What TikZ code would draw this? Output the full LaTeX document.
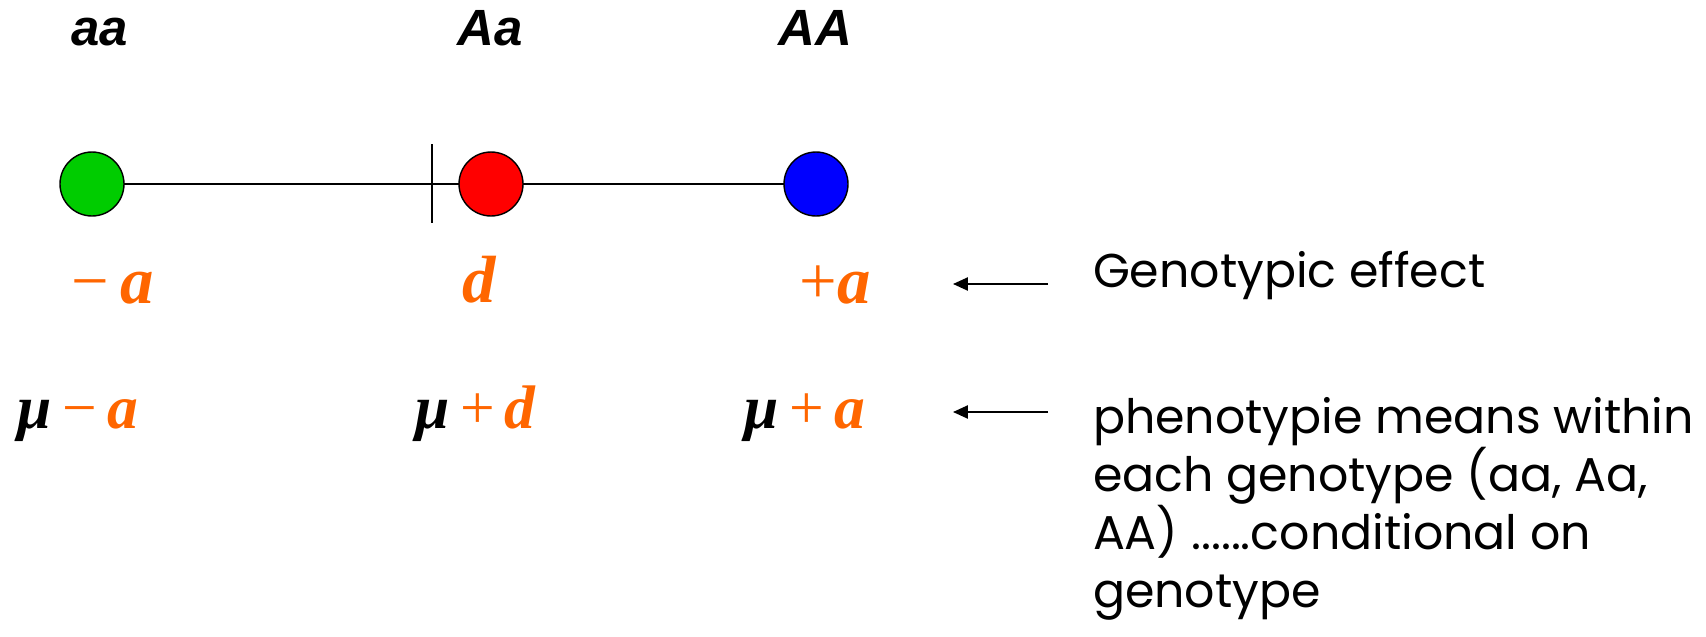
\documentclass[tikz,border=0pt]{standalone}
\usepackage{fontspec}
\setmainfont{Liberation Serif}
\newfontfamily\helvfont{Liberation Sans}
\newfontfamily\geofont{Poppins}
\usetikzlibrary{arrows.meta,positioning}
\definecolor{efforange}{RGB}{255,102,0}
\definecolor{aagreen}{RGB}{0,204,0}

\begin{document}
\begin{tikzpicture}[x=0.02cm,y=-0.02cm,
  every node/.style={inner sep=0pt,outer sep=0pt},
  geno/.style={anchor=base,font=\helvfont\bfseries\itshape\fontsize{29}{32}\selectfont},
  ball/.style={circle,draw=black,line width=.8pt,minimum size=1.28cm},
  effect/.style={anchor=base,text=efforange,font=\fontsize{38}{40}\selectfont},
  pmean/.style={anchor=base,font=\fontsize{35}{38}\selectfont},
  note/.style={align=left,font=\geofont\fontsize{27}{33}\selectfont},
  pointer/.style={line width=1pt,-{Triangle[length=8.5pt,width=7.5pt]}}]
\useasboundingbox (0,0) rectangle (1706,636);
\coordinate (t0) at (432,144);
\coordinate (t1) at (432,223);
\draw[line width=1pt] (92,184)--(816,184);
\draw[line width=.6pt] (t0)--(t1);
\node[ball,fill=aagreen] (gaa) at (92,184) {};
\node[ball,fill=red] (gAa) at (491,184) {};
\node[ball,fill=blue] (gAA) at (816,184) {};
\node[geno] (laa) at (100,45) {aa};
\node[geno] (lAa) at (490,45) {Aa};
\node[geno] (lAA) at (815,45) {AA};
\node[effect] (ea) at (113,303) {−\,\textbf{\textit{a}}};
\node[effect] (ed) at (480,302) {\textbf{\textit{d}}};
\node[effect] (eA) at (835,303) {+\textbf{\textit{a}}};
\node[pmean] (ma) at (78,428) {\textbf{\textit{μ}}\,\textcolor{efforange}{−\,\textbf{\textit{a}}}};
\node[pmean] (md) at (476,428) {\textbf{\textit{μ}}\,\textcolor{efforange}{+\,\textbf{\textit{d}}}};
\node[pmean] (mA) at (805,428) {\textbf{\textit{μ}}\,\textcolor{efforange}{+\,\textbf{\textit{a}}}};
\node[note,anchor=base west] (neff) at (1093,287) {Genotypic effect};
\node[note,anchor=north west] (nmean) at (1093,397) {phenotypie means within\\each genotype (aa, Aa,\\AA) ......conditional on\\genotype};
\coordinate (s0) at (1048,284);
\coordinate (h0) at (953,284);
\coordinate (s1) at (1048,412);
\coordinate (h1) at (953,412);
\draw[pointer] (s0)--(h0);
\draw[pointer] (s1)--(h1);
\end{tikzpicture}
\end{document}
